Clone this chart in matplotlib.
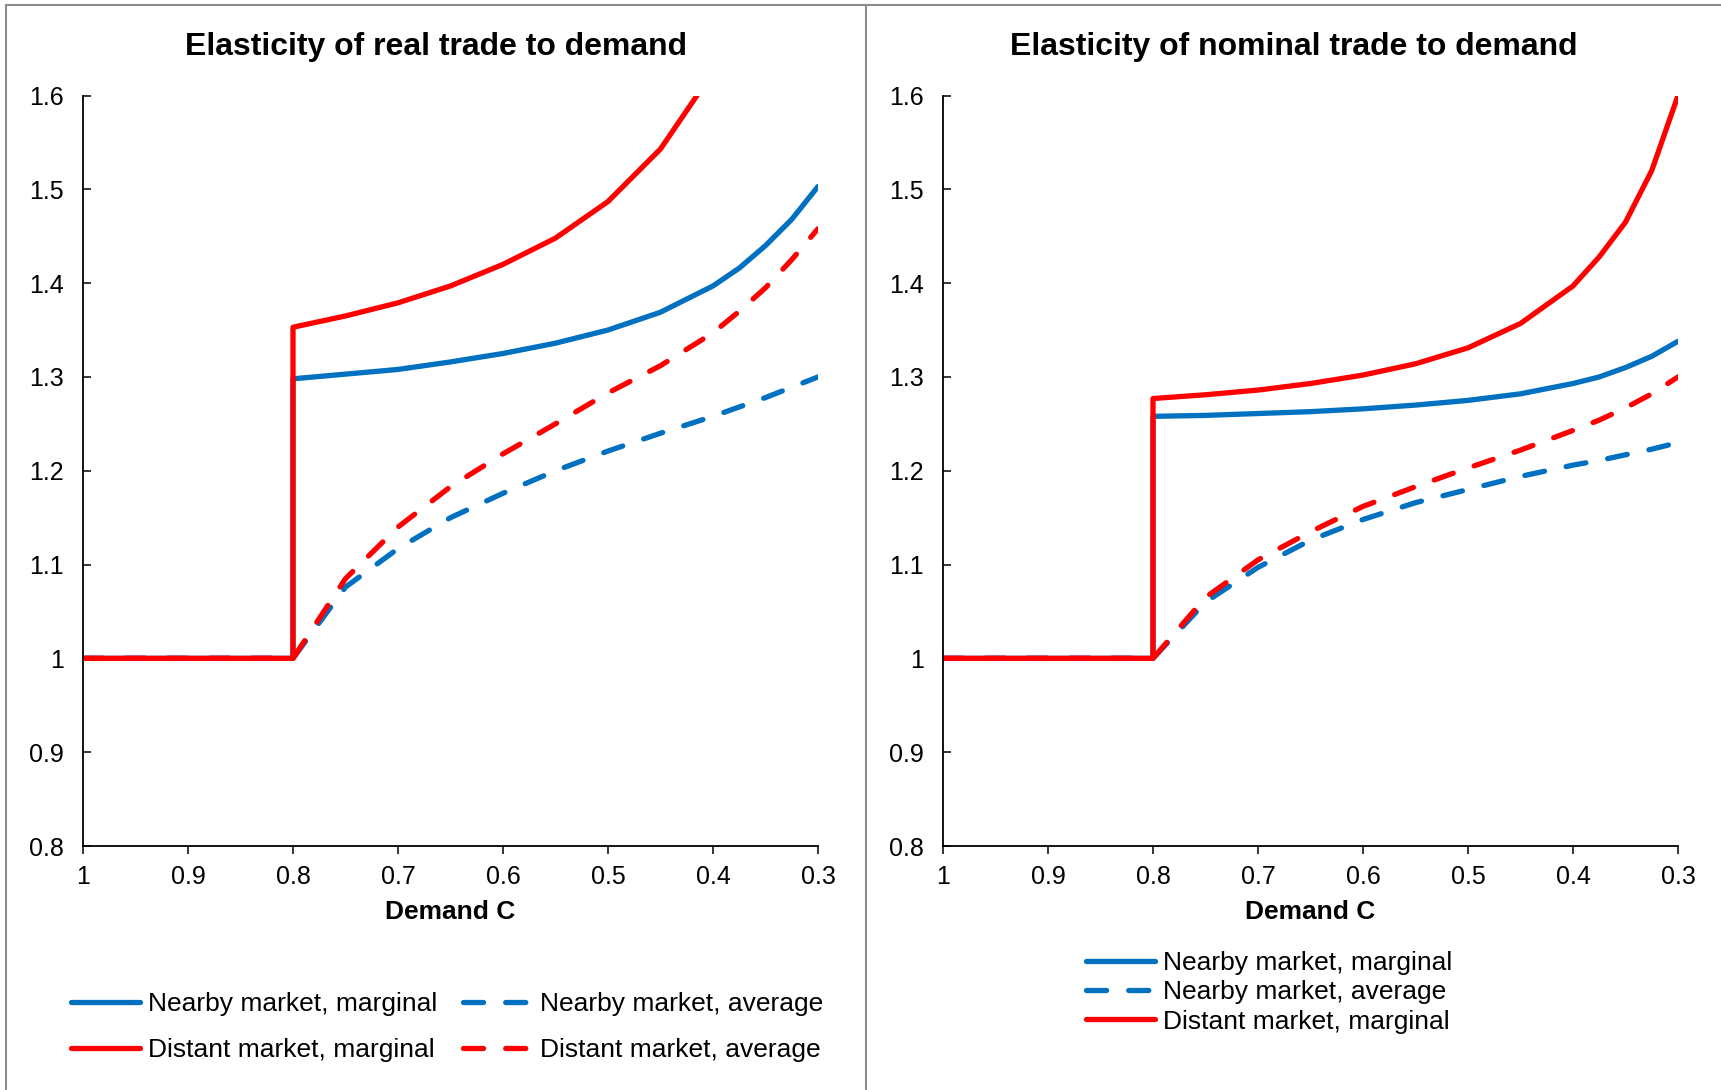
import matplotlib
matplotlib.use("Agg")
import matplotlib.pyplot as plt
from matplotlib.lines import Line2D

plt.rcParams['font.family'] = ['Liberation Sans', 'DejaVu Sans']

# Demand C (0.8 appears twice for the jump)
demand = [1.0, 0.95, 0.9, 0.85, 0.8, 0.8, 0.75, 0.7, 0.65, 0.6, 0.55, 0.5, 0.45, 0.4, 0.375, 0.35, 0.325, 0.3]

# real trade
near_marg_real = [1, 1, 1, 1, 1, 1.298, 1.303, 1.308, 1.316, 1.325, 1.336, 1.350, 1.369, 1.397, 1.416, 1.440, 1.468, 1.503]
near_avg_real = [1, 1, 1, 1, 1, 1.0, 1.076, 1.117, 1.150, 1.176, 1.200, 1.221, 1.240, 1.258, 1.268, 1.278, 1.289, 1.300]
dist_marg_real = [1, 1, 1, 1, 1, 1.353, 1.365, 1.379, 1.397, 1.420, 1.448, 1.487, 1.543, 1.625, 1.68, 1.75, 1.83, 1.92]
dist_avg_real = [1, 1, 1, 1, 1, 1.0, 1.085, 1.140, 1.183, 1.218, 1.250, 1.283, 1.312, 1.347, 1.370, 1.395, 1.425, 1.458]

# nominal trade
near_marg_nom = [1, 1, 1, 1, 1, 1.258, 1.259, 1.261, 1.263, 1.266, 1.270, 1.275, 1.282, 1.293, 1.300, 1.310, 1.322, 1.338]
near_avg_nom = [1, 1, 1, 1, 1, 1.0, 1.060, 1.097, 1.126, 1.148, 1.166, 1.180, 1.194, 1.206, 1.211, 1.217, 1.223, 1.230]
dist_marg_nom = [1, 1, 1, 1, 1, 1.277, 1.281, 1.286, 1.293, 1.302, 1.314, 1.331, 1.357, 1.397, 1.428, 1.465, 1.520, 1.600]
dist_avg_nom = [1, 1, 1, 1, 1, 1.0, 1.065, 1.105, 1.135, 1.162, 1.183, 1.203, 1.222, 1.243, 1.254, 1.267, 1.282, 1.300]

xticks = [1, 0.9, 0.8, 0.7, 0.6, 0.5, 0.4, 0.3]
yticks = [0.8, 0.9, 1.0, 1.1, 1.2, 1.3, 1.4, 1.5, 1.6]

BLUE = '#0070C0'
RED = '#FF0000'
LW = 3.8
DASH = (3.8, 4.2)

W, H = 1721, 1090
fig = plt.figure(figsize=(W / 100, H / 100), dpi=100)


def px_axes(x0, x1, ytop, ybot):
    return fig.add_axes([x0 / W, 1 - ybot / H, (x1 - x0) / W, (ybot - ytop) / H])


def style(ax):
    ax.set_xlim(1, 0.3)
    ax.set_ylim(0.8, 1.6)
    ax.set_xticks(xticks)
    ax.set_xticklabels([f"{t:g}" for t in xticks])
    ax.set_yticks(yticks)
    ax.set_yticklabels([f"{t:g}" for t in yticks])
    for s in ['top', 'right']:
        ax.spines[s].set_visible(False)
    for s in ['left', 'bottom']:
        ax.spines[s].set_linewidth(1.3)
    ax.tick_params(axis='x', direction='out', length=5.5, width=1.1, labelsize=18, pad=8)
    ax.tick_params(axis='y', direction='in', length=5.5, width=1.1, labelsize=18, pad=14)
    ax.set_xlabel("Demand C", fontsize=19, fontweight='bold', labelpad=8)


def draw(ax, nm, na, dm, da):
    ax.plot(demand, nm, color=BLUE, lw=LW, solid_capstyle='round', solid_joinstyle='round')
    ax.plot(demand, na, color=BLUE, lw=LW, dashes=DASH, dash_capstyle='round')
    ax.plot(demand, dm, color=RED, lw=LW, solid_capstyle='round', solid_joinstyle='round')
    ax.plot(demand, da, color=RED, lw=LW, dashes=DASH, dash_capstyle='round')


ax1 = px_axes(83, 818, 95.5, 846)
style(ax1)
draw(ax1, near_marg_real, near_avg_real, dist_marg_real, dist_avg_real)

ax2 = px_axes(943, 1678, 95.5, 846)
style(ax2)
draw(ax2, near_marg_nom, near_avg_nom, dist_marg_nom, dist_avg_nom)

# titles
fig.text(436 / W, 1 - 47 / H, "Elasticity of real trade to demand", ha='center', va='center',
         fontsize=23, fontweight='bold')
fig.text(1294 / W, 1 - 47 / H, "Elasticity of nominal trade to demand", ha='center', va='center',
         fontsize=23, fontweight='bold')

# legends
h_nm = Line2D([], [], color=BLUE, lw=LW, solid_capstyle='round')
h_na = Line2D([], [], color=BLUE, lw=LW, dashes=DASH, dash_capstyle='round')
h_dm = Line2D([], [], color=RED, lw=LW, solid_capstyle='round')
h_da = Line2D([], [], color=RED, lw=LW, dashes=DASH, dash_capstyle='round')

fig.legend([h_nm, h_dm, h_na, h_da],
           ["Nearby market, marginal", "Distant market, marginal",
            "Nearby market, average", "Distant market, average"],
           ncol=2, loc='upper left', bbox_to_anchor=(71 / W, 1 - 992 / H),
           frameon=False, fontsize=19, handlelength=2.6, handletextpad=0.3,
           columnspacing=1.0, labelspacing=0.85, borderpad=0, borderaxespad=0)

fig.legend([h_nm, h_na, h_dm],
           ["Nearby market, marginal", "Nearby market, average", "Distant market, marginal"],
           loc='upper left', bbox_to_anchor=(1086 / W, 1 - 951 / H),
           frameon=False, fontsize=19, handlelength=2.6, handletextpad=0.3,
           labelspacing=0.2, borderpad=0, borderaxespad=0)

# panel borders
border = '#8C8C8C'
fig.add_artist(Line2D([6 / W, 1], [1 - 5 / H, 1 - 5 / H], color=border, lw=1.5))
fig.add_artist(Line2D([6 / W, 6 / W], [0, 1 - 5 / H], color=border, lw=1.5))
fig.add_artist(Line2D([866 / W, 866 / W], [0, 1 - 5 / H], color=border, lw=1.5))

fig.savefig("out.png", dpi=100)
